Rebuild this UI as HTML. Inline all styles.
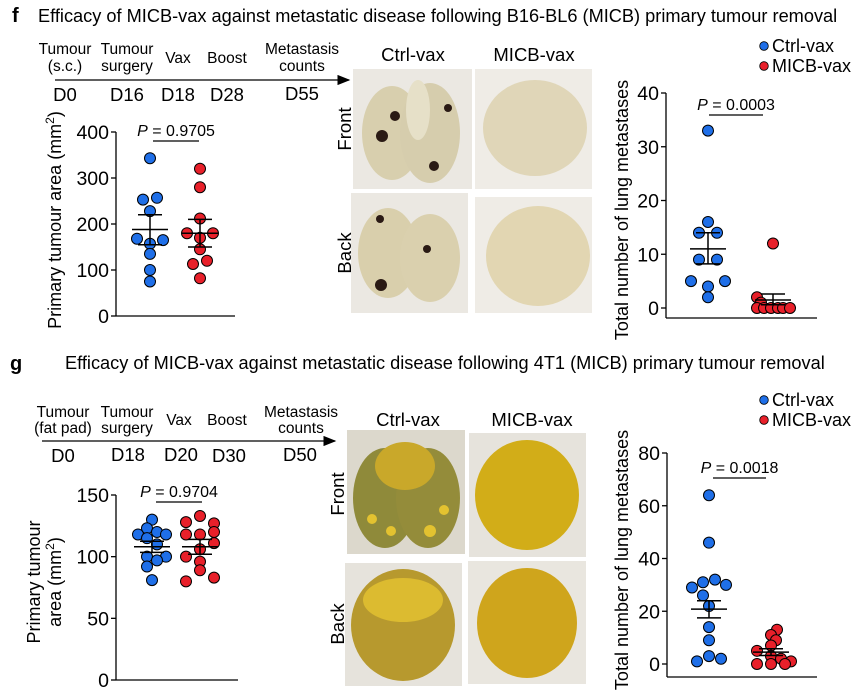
<!DOCTYPE html>
<html><head><meta charset="utf-8"><style>
body{margin:0;background:#fff;}
svg{display:block;font-family:"Liberation Sans",Arial,sans-serif;}
</style></head><body>
<svg id="fig" width="860" height="700" viewBox="0 0 860 700" xmlns="http://www.w3.org/2000/svg">
<defs>
<marker id="ah" markerWidth="10" markerHeight="8" refX="9" refY="4" orient="auto"><path d="M0,0 L10,4 L0,8 z" fill="#000"/></marker>
</defs>
<!-- headers -->
<text x="12" y="22" font-size="20" font-weight="bold">f</text>
<text x="38" y="22" font-size="18.2">Efficacy of MICB-vax against metastatic disease following B16-BL6 (MICB) primary tumour removal</text>
<text x="10" y="370" font-size="20" font-weight="bold">g</text>
<text x="65" y="369" font-size="18.2">Efficacy of MICB-vax against metastatic disease following 4T1 (MICB) primary tumour removal</text>

<!-- timeline f -->
<g font-size="15.5" text-anchor="middle">
<text x="65" y="54">Tumour</text><text x="65" y="71">(s.c.)</text>
<text x="127" y="54">Tumour</text><text x="127" y="71">surgery</text>
<text x="178" y="63">Vax</text><text x="227" y="63">Boost</text>
<text x="302" y="54">Metastasis</text><text x="302" y="71">counts</text>
<line x1="55" y1="80" x2="349" y2="80" stroke="#000" stroke-width="1.3" marker-end="url(#ah)"/>
<g font-size="18.5"><text x="65" y="101">D0</text><text x="127" y="101">D16</text><text x="178" y="101">D18</text><text x="227" y="101">D28</text><text x="302" y="100">D55</text></g>
</g>
<!-- timeline g -->
<g font-size="15.5" text-anchor="middle">
<text x="63" y="417">Tumour</text><text x="63" y="433">(fat pad)</text>
<text x="127" y="417">Tumour</text><text x="127" y="433">surgery</text>
<text x="179" y="425">Vax</text><text x="227" y="425">Boost</text>
<text x="301" y="417">Metastasis</text><text x="301" y="433">counts</text>
<line x1="42" y1="441" x2="335" y2="441" stroke="#000" stroke-width="1.3" marker-end="url(#ah)"/>
<g font-size="18.5"><text x="63" y="462">D0</text><text x="128" y="461">D18</text><text x="181" y="461">D20</text><text x="229" y="462">D30</text><text x="300" y="461">D50</text></g>
</g>

<!-- photo labels -->
<g font-size="18.5" text-anchor="middle">
<text x="413" y="61">Ctrl-vax</text>
<text x="534" y="61">MICB-vax</text>
<text x="408" y="426">Ctrl-vax</text>
<text x="532" y="426">MICB-vax</text>
<text transform="translate(351,129) rotate(-90)">Front</text>
<text transform="translate(351,253) rotate(-90)">Back</text>
<text transform="translate(344,494) rotate(-90)">Front</text>
<text transform="translate(344,624) rotate(-90)">Back</text>
</g>

<!-- photos f -->
<g>
<rect x="353" y="69" width="119" height="120" fill="#ebe8e2"/>
<ellipse cx="392" cy="133" rx="30" ry="47" fill="#d8cfae"/><ellipse cx="430" cy="133" rx="30" ry="50" fill="#d6cdad"/>
<ellipse cx="418" cy="110" rx="12" ry="30" fill="#e6e0c8"/>
<circle cx="382" cy="136" r="6" fill="#2a1a14"/><circle cx="395" cy="116" r="5" fill="#2a1a14"/><circle cx="434" cy="166" r="5" fill="#2a1a14"/><circle cx="448" cy="108" r="4" fill="#2a1a14"/>
</g>
<g>
<rect x="475" y="69" width="117" height="120" fill="#efece6"/>
<ellipse cx="535" cy="128" rx="52" ry="48" fill="#e0d6b8"/>
</g>
<g>
<rect x="351" y="193" width="117" height="120" fill="#ebe8e2"/>
<ellipse cx="388" cy="253" rx="30" ry="45" fill="#d9cfac"/><ellipse cx="430" cy="258" rx="30" ry="44" fill="#dad0ae"/>
<circle cx="381" cy="285" r="6" fill="#2a1a14"/><circle cx="380" cy="219" r="4" fill="#2a1a14"/><circle cx="427" cy="249" r="4" fill="#2a1a14"/>
</g>
<g>
<rect x="475" y="197" width="117" height="116" fill="#efece6"/>
<ellipse cx="538" cy="256" rx="52" ry="50" fill="#e2d6b2"/>
</g>
<!-- photos g -->
<g>
<rect x="347" y="430" width="118" height="124" fill="#dcd8cc"/>
<ellipse cx="385" cy="498" rx="32" ry="50" fill="#8f8a3a"/><ellipse cx="428" cy="498" rx="32" ry="50" fill="#948c3a"/>
<ellipse cx="405" cy="466" rx="30" ry="24" fill="#c9a82a"/>
<circle cx="372" cy="519" r="5" fill="#e3c230"/><circle cx="391" cy="531" r="5" fill="#e3c230"/><circle cx="430" cy="531" r="6" fill="#e3c230"/><circle cx="444" cy="510" r="5" fill="#e3c230"/>
</g>
<g>
<rect x="469" y="433" width="117" height="124" fill="#e6e3dc"/>
<ellipse cx="527" cy="495" rx="52" ry="55" fill="#d2ad18"/>
</g>
<g>
<rect x="345" y="563" width="117" height="123" fill="#e6e3dc"/>
<ellipse cx="403" cy="625" rx="52" ry="56" fill="#b7992e"/>
<ellipse cx="403" cy="600" rx="40" ry="22" fill="#dcbb30"/>
</g>
<g>
<rect x="468" y="561" width="118" height="123" fill="#e9e6df"/>
<ellipse cx="527" cy="623" rx="50" ry="55" fill="#cfa51c"/>
</g>

<!-- legends -->
<g font-size="18">
<circle cx="764" cy="46" r="4.3" fill="#1f6fe8" stroke="#000" stroke-width="0.8"/><text x="772" y="52">Ctrl-vax</text>
<circle cx="764" cy="66" r="4.3" fill="#e8202a" stroke="#000" stroke-width="0.8"/><text x="772" y="72">MICB-vax</text>
</g>
<g font-size="18">
<circle cx="764" cy="400" r="4.3" fill="#1f6fe8" stroke="#000" stroke-width="0.8"/><text x="772" y="406">Ctrl-vax</text>
<circle cx="764" cy="420" r="4.3" fill="#e8202a" stroke="#000" stroke-width="0.8"/><text x="772" y="426">MICB-vax</text>
</g>

<!-- axis titles -->
<g font-size="18" text-anchor="middle">
<text transform="translate(61,220) rotate(-90)">Primary tumour area (mm<tspan font-size="12" dy="-7">2</tspan><tspan dy="7">)</tspan></text>
<text transform="translate(628,210) rotate(-90)">Total number of lung metastases</text>
<text transform="translate(40,582) rotate(-90)">Primary tumour</text>
<text transform="translate(61,582) rotate(-90)">area (mm<tspan font-size="12" dy="-7">2</tspan><tspan dy="7">)</tspan></text>
<text transform="translate(628,560) rotate(-90)">Total number of lung metastases</text>
</g>
<g id="charts"></g>
</svg>
<script>
// ---- data ----
const fAreaCtrl = [343,253,257,228,168,157,165,135,100,75];
const fAreaCtrlJit = [0,-7,7,0,-13,0,13,0,0,0];
const fAreaMicb = [320,280,212,180,180,170,145,113,120,82];
const fAreaMicbJit = [0,0,0,-13,13,0,0,-7,7,0];
const fAreaTicks = [0,100,200,300,400];
const fAreaStats = {ctrlMean:188, ctrlHi:220, ctrlLo:155, micbMean:180, micbHi:210, micbLo:150};

const fMetCtrl = [33,16,14,14,9,9,5,5,4,2];
const fMetCtrlJit = [0,0,-9,9,-9,9,-17,17,0,0];
const fMetMicb = [12,2,1,0,0,0,0,0,0];
const fMetMicbJit = [0,-16,-12,-16,-9,-2,5,10,17];
const fMetTicks = [0,10,20,30,40];
const fMetStats = {ctrlMean:11, ctrlHi:14, ctrlLo:8.2, micbMean:1.5, micbHi:2.6, micbLo:0.6};

const gAreaCtrl = [130,123,120,118,118,115,110,100,100,97,92,81];
const gAreaCtrlJit = [0,-5,5,-14,14,-5,5,-5,14,5,-5,0];
const gAreaMicb = [133,128,127,120,118,118,111,106,100,96,89,83,80];
const gAreaMicbJit = [0,-14,14,14,-14,0,14,0,-14,0,0,14,-14];
const gAreaTicks = [0,50,100,150];
const gAreaStats = {ctrlMean:108, ctrlHi:112.5, ctrlLo:103.5, micbMean:108, micbHi:114, micbLo:102};

const gMetCtrl = [64,46,32,31,30,29,26,22,14,9,3,2,1];
const gMetCtrlJit = [0,0,6,-6,17,-17,-6,0,0,0,0,12,-12];
const gMetMicb = [13,11,9,7,5,3,2,1,0,0,0];
const gMetMicbJit = [6,0,5,0,-14,0,10,20,-14,0,14];
const gMetTicks = [0,20,40,60,80];
const gMetStats = {ctrlMean:20.8, ctrlHi:24, ctrlLo:17.5, micbMean:4.5, micbHi:5.8, micbLo:3.2};

const NS = "http://www.w3.org/2000/svg";
const root = document.getElementById('charts');
function mk(tag, attrs, parent){const e=document.createElementNS(NS,tag);for(const k in attrs)e.setAttribute(k,attrs[k]);(parent||root).appendChild(e);return e;}

function panel(cfg){
  const g = mk('g',{});
  
  
  const y = v => cfg.y0 + (v - cfg.ticks[0])/(cfg.ticks[cfg.ticks.length-1]-cfg.ticks[0])*(cfg.y1-cfg.y0);
  const ya = mk('line',{x1:cfg.ax,y1:y(cfg.ticks[cfg.ticks.length-1]),x2:cfg.ax,y2:cfg.axisY,stroke:'#000','stroke-width':1.3},g);
  
  
  const xa = mk('line',{x1:cfg.ax,y1:cfg.axisY,x2:cfg.axEnd,y2:cfg.axisY,stroke:'#000','stroke-width':1.3},g);
  
  
  cfg.ticks.forEach(t=>{
    mk('line',{x1:cfg.ax-5,y1:y(t),x2:cfg.ax,y2:y(t),stroke:'#000','stroke-width':1.3},g);
    const tx = mk('text',{x:cfg.ax-7,y:y(t)+7,'font-size':19.5,'text-anchor':'end'},g);
    tx.textContent = t;
    
    
  });
  const pl = mk('line',{x1:cfg.px1,y1:cfg.pY,x2:cfg.px2,y2:cfg.pY,stroke:'#000','stroke-width':1.3},g);
  
  
  const pt = mk('text',{x:(cfg.px1+cfg.px2)/2,y:cfg.pY-5,'font-size':16,'text-anchor':'middle'},g);
  pt.innerHTML = '<tspan font-style="italic">P</tspan> = '+cfg.p;
  
  
  [[cfg.ctrl,cfg.ctrlJit,cfg.cx,'#1f6fe8','ctrl'],[cfg.micb,cfg.micbJit,cfg.mx,'#e8202a','micb']].forEach(([vals,jit,x0,col,nm])=>{
    vals.forEach((v,i)=>{
      const c = mk('circle',{cx:x0+jit[i]*cfg.js,cy:y(v),r:5.5,fill:col,stroke:'#000','stroke-width':1},g);
      
      
    });
  });
  [[cfg.cx,'ctrl'],[cfg.mx,'micb']].forEach(([x0,nm])=>{
    const m=cfg.stats[nm+'Mean'],hi=cfg.stats[nm+'Hi'],lo=cfg.stats[nm+'Lo'];
    const eb = mk('g',{stroke:'#000','stroke-width':1.5},g);
    
    
    mk('line',{x1:x0,y1:y(hi),x2:x0,y2:y(lo)},eb);
    mk('line',{x1:x0-18,y1:y(m),x2:x0+18,y2:y(m)},eb);
    mk('line',{x1:x0-12,y1:y(hi),x2:x0+12,y2:y(hi)},eb);
    mk('line',{x1:x0-12,y1:y(lo),x2:x0+12,y2:y(lo)},eb);
  });
}
panel({name:'chart-f-tumour-area',ticks:fAreaTicks,y0:316,y1:132,ax:116,axEnd:235,axisY:316,cx:150,mx:200,js:1,ctrl:fAreaCtrl,ctrlJit:fAreaCtrlJit,micb:fAreaMicb,micbJit:fAreaMicbJit,stats:fAreaStats,p:'0.9705',px1:153,px2:199,pY:141});
panel({name:'chart-f-lung-mets',ticks:fMetTicks,y0:308,y1:93,ax:666,axEnd:817,axisY:318,cx:708,mx:773,js:1,ctrl:fMetCtrl,ctrlJit:fMetCtrlJit,micb:fMetMicb,micbJit:fMetMicbJit,stats:fMetStats,p:'0.0003',px1:709,px2:763,pY:115});
panel({name:'chart-g-tumour-area',ticks:gAreaTicks,y0:680,y1:495,ax:116,axEnd:238,axisY:680,cx:152,mx:200,js:1,ctrl:gAreaCtrl,ctrlJit:gAreaCtrlJit,micb:gAreaMicb,micbJit:gAreaMicbJit,stats:gAreaStats,p:'0.9704',px1:156,px2:202,pY:502});
panel({name:'chart-g-lung-mets',ticks:gMetTicks,y0:664,y1:453,ax:667,axEnd:817,axisY:677,cx:709,mx:771,js:1,ctrl:gMetCtrl,ctrlJit:gMetCtrlJit,micb:gMetMicb,micbJit:gMetMicbJit,stats:gMetStats,p:'0.0018',px1:713,px2:766,pY:478});
</script>
</body></html>
